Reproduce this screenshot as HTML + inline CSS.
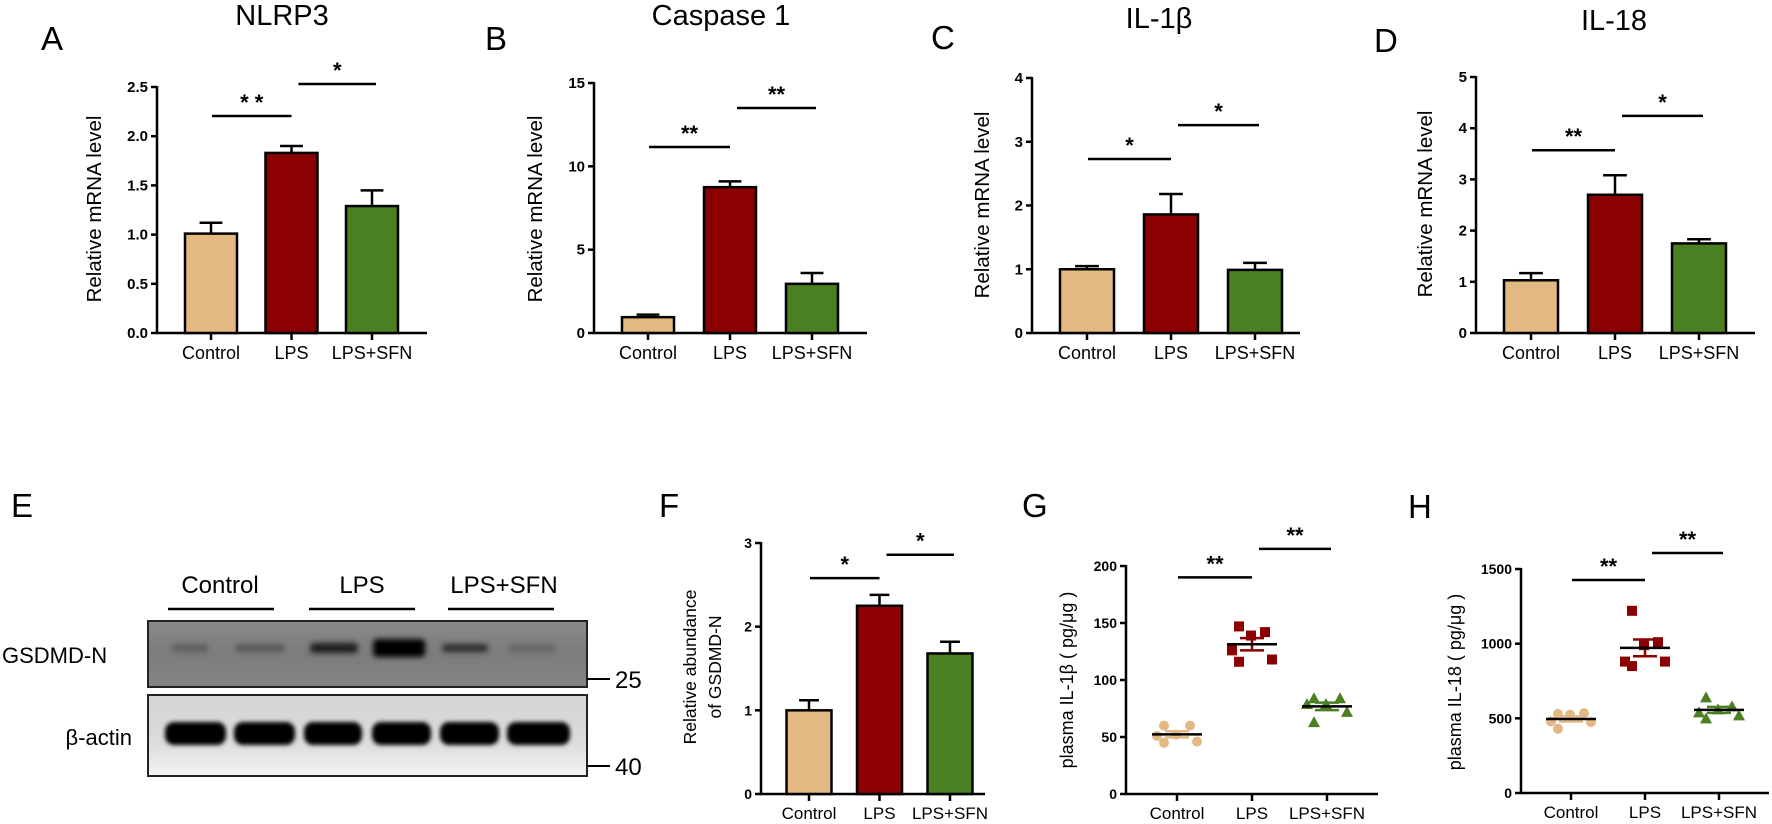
<!DOCTYPE html>
<html><head><meta charset="utf-8"><title>Inflammasome figure</title>
<style>
html,body{margin:0;padding:0;background:#fff;}
svg{display:block;font-family:"Liberation Sans",Arial,sans-serif;}
</style></head>
<body>
<svg id="fig" width="1772" height="824" viewBox="0 0 1772 824" xmlns="http://www.w3.org/2000/svg">
<defs>
<filter id="blur3" x="-30%" y="-100%" width="160%" height="300%"><feGaussianBlur stdDeviation="3"/></filter>
<filter id="blur2" x="-30%" y="-100%" width="160%" height="300%"><feGaussianBlur stdDeviation="2"/></filter>
<linearGradient id="topbg" x1="0" y1="0" x2="0" y2="1"><stop offset="0" stop-color="#8a8a8a"/><stop offset="0.5" stop-color="#7c7c7c"/><stop offset="1" stop-color="#858585"/></linearGradient>
<linearGradient id="botbg" x1="0" y1="0" x2="0" y2="1"><stop offset="0" stop-color="#d4d4d4"/><stop offset="0.6" stop-color="#dcdcdc"/><stop offset="1" stop-color="#f4f4f4"/></linearGradient>
</defs>
<g id="root"></g>
</svg>
<script>
const NS="http://www.w3.org/2000/svg";
const root=document.getElementById('root');
const groups=["Control","LPS","LPS+SFN"];
const colors=["#e3b883","#8b0000","#4a7f22"];

// Panel A – NLRP3
const aVals=[1.01,1.83,1.29];
const aErr=[0.11,0.07,0.16];
const aTicks=[0,0.5,1.0,1.5,2.0,2.5];
const aSig=[[0,1,2.205,"* *"],[1,2,2.53,"*"]];
// Panel B – Caspase 1
const bVals=[0.95,8.75,2.95];
const bErr=[0.15,0.35,0.65];
const bTicks=[0,5,10,15];
const bSig=[[0,1,11.16,"**"],[1,2,13.5,"**"]];
// Panel C – IL-1β
const cVals=[1.0,1.86,0.99];
const cErr=[0.05,0.32,0.11];
const cTicks=[0,1,2,3,4];
const cSig=[[0,1,2.73,"*"],[1,2,3.26,"*"]];
// Panel D – IL-18
const dVals=[1.03,2.7,1.75];
const dErr=[0.14,0.38,0.08];
const dTicks=[0,1,2,3,4,5];
const dSig=[[0,1,3.57,"**"],[1,2,4.24,"*"]];
// Panel F – GSDMD-N
const fVals=[1.0,2.25,1.68];
const fErr=[0.12,0.13,0.14];
const fTicks=[0,1,2,3];
const fSig=[[0,1,2.58,"*"],[1,2,2.86,"*"]];
// Panel G – plasma IL-1β points
const gCtrl=[60,60,52,51,46,45];
const gLps=[147,142,139,126,118,116];
const gSfn=[84,84,79,79,72,63];
const gTicks=[0,50,100,150,200];
const gSig=[[0,1,190,"**"],[1,2,215,"**"]];
// Panel H – plasma IL-18 points
const hCtrl=[530,535,525,480,475,430];
const hLps=[1220,1010,990,880,880,850];
const hSfn=[640,580,560,540,520,500];
const hTicks=[0,500,1000,1500];
const hSig=[[0,1,1426,"**"],[1,2,1607,"**"]];

function el(tag,attrs,parent){const e=document.createElementNS(NS,tag);for(const k in attrs)e.setAttribute(k,attrs[k]);(parent||root).appendChild(e);return e;}
function txt(s,attrs,parent){const e=el('text',attrs,parent);e.textContent=s;return e;}

function axes(g,cfg,ticks,fmt){
  const y=v=>cfg.y0-(v/cfg.max)*(cfg.y0-cfg.yTop);
  const ya=el('line',{x1:cfg.ax,y1:cfg.yTop-1,x2:cfg.ax,y2:cfg.y0,stroke:'#000','stroke-width':2.5},g);
  
  const xa=el('line',{x1:cfg.ax-1,y1:cfg.y0,x2:cfg.xEnd,y2:cfg.y0,stroke:'#000','stroke-width':2.5},g);
  
  ticks.forEach(t=>{
    el('line',{x1:cfg.ax-6,y1:y(t),x2:cfg.ax,y2:y(t),stroke:'#000','stroke-width':2.5},g);
    const tl=txt(fmt(t),{x:cfg.ax-9,y:y(t)+5,'text-anchor':'end','font-size':cfg.tfs||15,'font-weight':'bold'},g);
    
  });
  groups.forEach((n,i)=>{
    const cx=cfg.ax+cfg.off+i*cfg.step;
    el('line',{x1:cx,y1:cfg.y0,x2:cx,y2:cfg.y0+7,stroke:'#000','stroke-width':2.5},g);
    const xl=txt(n,{x:cx,y:cfg.y0+cfg.lblDy,'text-anchor':'middle','font-size':cfg.xfs},g);
    
  });
  return y;
}
function sig(g,cfg,y,sigs){
  sigs.forEach((s,k)=>{
    const x1=cfg.ax+cfg.off+s[0]*cfg.step+(k?7:1), x2=cfg.ax+cfg.off+s[1]*cfg.step+(k?4:0);
    const ln=el('line',{x1:x1,y1:y(s[2]),x2:x2,y2:y(s[2]),stroke:'#000','stroke-width':2.5},g);
    
    const st=txt(s[3],{x:(x1+x2)/2,y:y(s[2])-6,'text-anchor':'middle','font-size':22,'font-weight':'bold'},g);
    
  });
}
function ylabel(g,lines,x,yc,fs,gap){
  lines.forEach((l,i)=>{
    const t=txt(l,{x:0,y:0,'text-anchor':'middle','font-size':fs,transform:`translate(${x+i*gap},${yc}) rotate(-90)`},g);
    
  });
}
function heading(g,letter,lx,ly,title,tx,ty){
  const L=txt(letter,{x:lx,y:ly,'font-size':33},g);
  
  if(title){const T=txt(title,{x:tx,y:ty,'text-anchor':'middle','font-size':29},g);
  }
}
function barPanel(pname,cfg,vals,errs,ticks,fmt,sigs){
  const g=el('g',{});
  
  const y=axes(g,cfg,ticks,fmt);
  vals.forEach((v,i)=>{
    const cx=cfg.ax+cfg.off+i*cfg.step;
    const tp=y(v+errs[i]);
    const eb=el('line',{x1:cx,y1:y(v),x2:cx,y2:tp,stroke:'#000','stroke-width':2.5},g);
    
    el('line',{x1:cx-cfg.bw*0.22,y1:tp,x2:cx+cfg.bw*0.22,y2:tp,stroke:'#000','stroke-width':2.5},g);
    const r=el('rect',{x:cx-cfg.bw/2,y:y(v),width:cfg.bw,height:cfg.y0-y(v),fill:colors[i],stroke:'#000','stroke-width':2.5},g);
    
    
  });
  sig(g,cfg,y,sigs);
  return g;
}
function mean(a){return a.reduce((s,v)=>s+v,0)/a.length;}
function sem(a){const m=mean(a);return Math.sqrt(a.reduce((s,v)=>s+(v-m)*(v-m),0)/(a.length-1))/Math.sqrt(a.length);}
const jitter=[-13,13,-1,-20,20,-13];
function scatterPanel(pname,cfg,sets,ticks,sigs){
  const g=el('g',{});
  
  const y=axes(g,cfg,ticks,t=>String(t));
  sets.forEach((arr,i)=>{
    const cx=cfg.ax+cfg.off+i*cfg.step;
    arr.forEach((v,j)=>{
      const px=cx+jitter[j], py=y(v);
      let m;
      if(i===0) m=el('circle',{cx:px,cy:py,r:5,fill:colors[0]},g);
      else if(i===1) m=el('rect',{x:px-5,y:py-5,width:10,height:10,fill:colors[1]},g);
      else m=el('polygon',{points:`${px},${py-6} ${px-6},${py+5} ${px+6},${py+5}`,fill:colors[2]},g);
      
      
    });
    const m=mean(arr), s=sem(arr);
    [m-s,m+s].forEach(v=>el('line',{x1:cx-12,y1:y(v),x2:cx+12,y2:y(v),stroke:colors[i],'stroke-width':2.5},g));
    el('line',{x1:cx,y1:y(m-s),x2:cx,y2:y(m+s),stroke:colors[i],'stroke-width':2.5},g);
    const ml=el('line',{x1:cx-25,y1:y(m),x2:cx+25,y2:y(m),stroke:'#000','stroke-width':2.5},g);
    
  });
  sig(g,cfg,y,sigs);
  return g;
}

// Top row
const topCfg={y0:333,lblDy:26,xfs:18};
let gA=barPanel('panel-a-nlrp3',Object.assign({ax:157,yTop:87,max:2.5,xEnd:427,off:54,step:80.5,bw:52},topCfg),aVals,aErr,aTicks,t=>t.toFixed(1),aSig);
heading(gA,'A',41,50,'NLRP3',282,25); ylabel(gA,['Relative mRNA level'],101,209,20.5,0);
let gB=barPanel('panel-b-caspase1',Object.assign({ax:594,yTop:83,max:15,xEnd:867,off:54,step:82,bw:52},topCfg),bVals,bErr,bTicks,t=>String(t),bSig);
heading(gB,'B',485,50,'Caspase 1',721,25); ylabel(gB,['Relative mRNA level'],542,209,20.5,0);
let gC=barPanel('panel-c-il1b',Object.assign({ax:1032,yTop:78,max:4,xEnd:1300,off:55,step:84,bw:54},topCfg),cVals,cErr,cTicks,t=>String(t),cSig);
heading(gC,'C',931,49,'IL-1β',1159,28); ylabel(gC,['Relative mRNA level'],989,205,20.5,0);
let gD=barPanel('panel-d-il18',Object.assign({ax:1476,yTop:77,max:5,xEnd:1755,off:55,step:84,bw:54},topCfg),dVals,dErr,dTicks,t=>String(t),dSig);
heading(gD,'D',1374,52,'IL-18',1614,30); ylabel(gD,['Relative mRNA level'],1432,204,20.5,0);

// Bottom row bars & scatter
const botCfg={lblDy:25,xfs:17,tfs:14};
let gF=barPanel('panel-f-gsdmd',Object.assign({ax:761,y0:794,yTop:543,max:3,xEnd:985,off:48,step:70.5,bw:45},botCfg),fVals,fErr,fTicks,t=>String(t),fSig);
heading(gF,'F',659,517); ylabel(gF,['Relative abundance','of GSDMD-N'],696,667,17.5,25);
let gG=scatterPanel('panel-g-plasma-il1b',Object.assign({ax:1126,y0:794,yTop:566,max:200,xEnd:1378,off:51,step:75},botCfg),[gCtrl,gLps,gSfn],gTicks,gSig);
heading(gG,'G',1022,517); ylabel(gG,['plasma IL-1β ( pg/μg )'],1073,680,18,0);
let gH=scatterPanel('panel-h-plasma-il18',Object.assign({ax:1521,y0:793,yTop:569,max:1500,xEnd:1769,off:50,step:74},botCfg),[hCtrl,hLps,hSfn],hTicks,hSig);
heading(gH,'H',1408,518); ylabel(gH,['plasma IL-18 ( pg/μg )'],1461,682,18,0);

// Panel E – western blot
const gE=el('g',{});

heading(gE,'E',11,517);
const laneLabels=[["Control",220,168,274],["LPS",362,309,415],["LPS+SFN",504,448,554]];
laneLabels.forEach(l=>{
  const t=txt(l[0],{x:l[1],y:593,'text-anchor':'middle','font-size':24},gE);
  
  el('line',{x1:l[2],y1:609,x2:l[3],y2:609,stroke:'#000','stroke-width':2.5},gE);
});
const b1=el('rect',{x:148,y:621,width:439,height:66,fill:'url(#topbg)',stroke:'#222','stroke-width':2},gE);

const b2=el('rect',{x:148,y:695,width:439,height:81,fill:'url(#botbg)',stroke:'#222','stroke-width':2},gE);

const gsBands=[[172,209,'#5e5e5e',8],[235,285,'#585858',8],[310,358,'#1a1a1a',10],[373,425,'#000',18],[442,488,'#2a2a2a',8],[509,555,'#666',8]];
gsBands.forEach(b=>{el('rect',{x:b[0],y:648-b[3]/2,width:b[1]-b[0],height:b[3],rx:4,fill:b[2],filter:'url(#blur3)'},gE);});
const acBands=[[165,226],[234,295],[304,362],[372,431],[440,499],[507,570]];
acBands.forEach(b=>{el('rect',{x:b[0],y:722,width:b[1]-b[0],height:23,rx:9,fill:'#050505',filter:'url(#blur2)'},gE);});
const l1=txt('GSDMD-N',{x:2,y:663,'font-size':22},gE);
const l2=txt('β-actin',{x:132,y:745,'text-anchor':'end','font-size':22},gE);
[[679,'25'],[766,'40']].forEach(m=>{
  el('line',{x1:587,y1:m[0],x2:610,y2:m[0],stroke:'#000','stroke-width':2},gE);
  const t=txt(m[1],{x:615,y:m[0]+9,'font-size':24},gE);
  
});
</script>
</body></html>
